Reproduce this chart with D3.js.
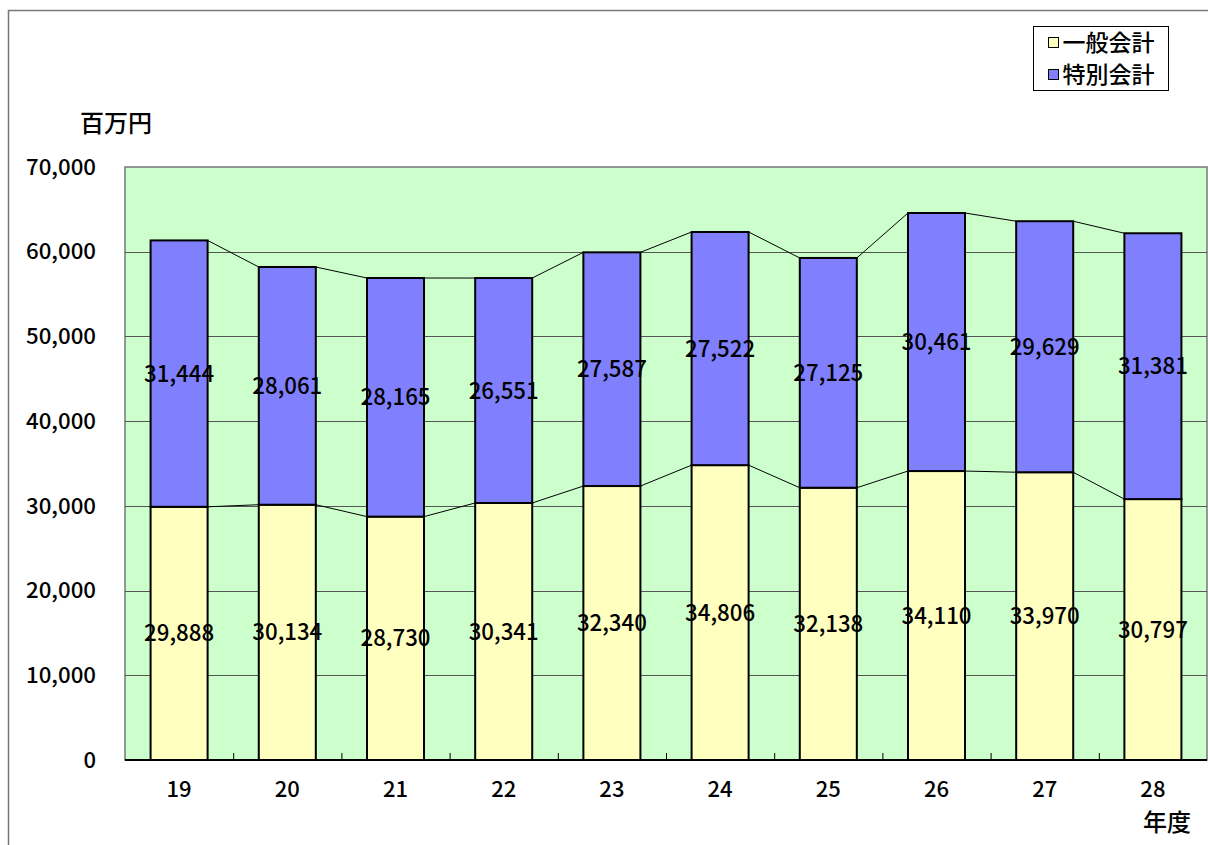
<!DOCTYPE html>
<html lang="ja">
<head>
  <meta charset="UTF-8">
  <title>一般会計・特別会計</title>
  <style>
    body { margin: 0; background: #fff; }
    svg { display: block; }
    text { font-family: "Noto Sans CJK JP", "Noto Sans", sans-serif; fill: #000; font-weight: 500; }
    .grid line { stroke: #555; stroke-width: 1; }
    .bar { stroke: #000; stroke-width: 2; }
    .series-line { stroke: #000; stroke-width: 1; fill: none; }
  </style>
</head>
<body>
  <svg width="1208" height="845"></svg>
  <script src="https://d3js.org/d3.v7.min.js"></script>
  <script>
    const years = ["19", "20", "21", "22", "23", "24", "25", "26", "27", "28"];
    const general = [29888, 30134, 28730, 30341, 32340, 34806, 32138, 34110, 33970, 30797];
    const special = [31444, 28061, 28165, 26551, 27587, 27522, 27125, 30461, 29629, 31381];
    const yTicks = [0, 10000, 20000, 30000, 40000, 50000, 60000, 70000];
    const seriesNames = ["一般会計", "特別会計"];
    const colors = ["#FFFFC0", "#8080FF"];

    const svg = d3.select("svg");

    // outer frame (left + top edges)
    svg.append("path")
      .attr("d", "M8.5,845 V10.5 H1208")
      .attr("fill", "none")
      .attr("stroke", "#777")
      .attr("stroke-width", 1.5);

    const plot = { left: 125, right: 1207, top: 167, bottom: 760 };

    const x = d3.scaleBand().domain(years).range([plot.left, plot.right]);
    const y = d3.scaleLinear().domain([0, 70000]).range([plot.bottom, plot.top]);
    const barW = x.bandwidth() * 0.527;

    // plot background
    svg.append("rect")
      .attr("x", plot.left).attr("y", plot.top)
      .attr("width", plot.right - plot.left).attr("height", plot.bottom - plot.top)
      .attr("fill", "#CCFFCC")
      .attr("stroke", "#777").attr("stroke-width", 1.5);

    // gridlines
    svg.append("g").attr("class", "grid")
      .selectAll("line").data(yTicks.slice(1, -1)).join("line")
      .attr("x1", plot.left).attr("x2", plot.right)
      .attr("y1", d => Math.round(y(d)) + 0.5).attr("y2", d => Math.round(y(d)) + 0.5);

    // y axis labels
    svg.append("g")
      .selectAll("text").data(yTicks).join("text")
      .attr("x", 96).attr("y", d => y(d))
      .attr("dy", "0.35em")
      .attr("text-anchor", "end")
      .attr("font-size", 22)
      .attr("textLength", d => d === 0 ? null : 70)
      .attr("lengthAdjust", "spacingAndGlyphs")
      .text(d => d3.format(",")(d));

    svg.append("text")
      .attr("x", 80).attr("y", 132)
      .attr("font-size", 24)
      .text("百万円");

    // stacked data
    const rows = years.map((yr, i) => ({ yr, general: general[i], special: special[i] }));
    const stack = d3.stack().keys(["general", "special"])(rows);

    // series lines between bar tops
    stack.forEach(layer => {
      for (let i = 0; i < layer.length - 1; i++) {
        const a = layer[i], b = layer[i + 1];
        svg.append("line").attr("class", "series-line")
          .attr("x1", x(a.data.yr) + (x.bandwidth() + barW) / 2)
          .attr("y1", y(a[1]))
          .attr("x2", x(b.data.yr) + (x.bandwidth() - barW) / 2)
          .attr("y2", y(b[1]));
      }
    });

    // bars
    stack.forEach((layer, li) => {
      svg.append("g")
        .selectAll("rect").data(layer).join("rect")
        .attr("class", "bar")
        .attr("x", d => x(d.data.yr) + (x.bandwidth() - barW) / 2)
        .attr("y", d => y(d[1]))
        .attr("width", barW)
        .attr("height", d => y(d[0]) - y(d[1]))
        .attr("fill", colors[li]);
    });

    // value labels
    stack.forEach(layer => {
      svg.append("g")
        .selectAll("text").data(layer).join("text")
        .attr("x", d => x(d.data.yr) + x.bandwidth() / 2)
        .attr("y", d => y((d[0] + d[1]) / 2))
        .attr("dy", "0.35em")
        .attr("text-anchor", "middle")
        .attr("font-size", 23)
        .attr("textLength", 70)
        .attr("lengthAdjust", "spacingAndGlyphs")
        .text(d => d3.format(",")(d[1] - d[0]));
    });

    // x axis baseline and ticks
    svg.append("line")
      .attr("x1", plot.left).attr("x2", plot.right)
      .attr("y1", plot.bottom).attr("y2", plot.bottom)
      .attr("stroke", "#000").attr("stroke-width", 2);

    svg.append("g")
      .selectAll("line").data(years.slice(1)).join("line")
      .attr("x1", d => x(d) + 0.5).attr("x2", d => x(d) + 0.5)
      .attr("y1", plot.bottom).attr("y2", plot.bottom - 7)
      .attr("stroke", "#000").attr("stroke-width", 1);

    svg.append("g")
      .selectAll("text").data(years).join("text")
      .attr("x", d => x(d) + x.bandwidth() / 2)
      .attr("y", 797)
      .attr("text-anchor", "middle")
      .attr("font-size", 22)
      .text(d => d);

    svg.append("text")
      .attr("x", 1143).attr("y", 831)
      .attr("font-size", 24)
      .text("年度");

    // legend
    const lg = svg.append("g").attr("transform", "translate(1033.5,26.5)");
    lg.append("rect")
      .attr("width", 135).attr("height", 64)
      .attr("fill", "#fff").attr("stroke", "#000").attr("stroke-width", 1);
    seriesNames.forEach((name, i) => {
      lg.append("rect")
        .attr("x", 15).attr("y", 11 + i * 32)
        .attr("width", 10).attr("height", 10)
        .attr("fill", colors[i]).attr("stroke", "#000").attr("stroke-width", 1);
      lg.append("text")
        .attr("x", 29).attr("y", 16 + i * 32)
        .attr("dy", "0.35em")
        .attr("font-size", 23)
        .text(name);
    });
  </script>
</body>
</html>
